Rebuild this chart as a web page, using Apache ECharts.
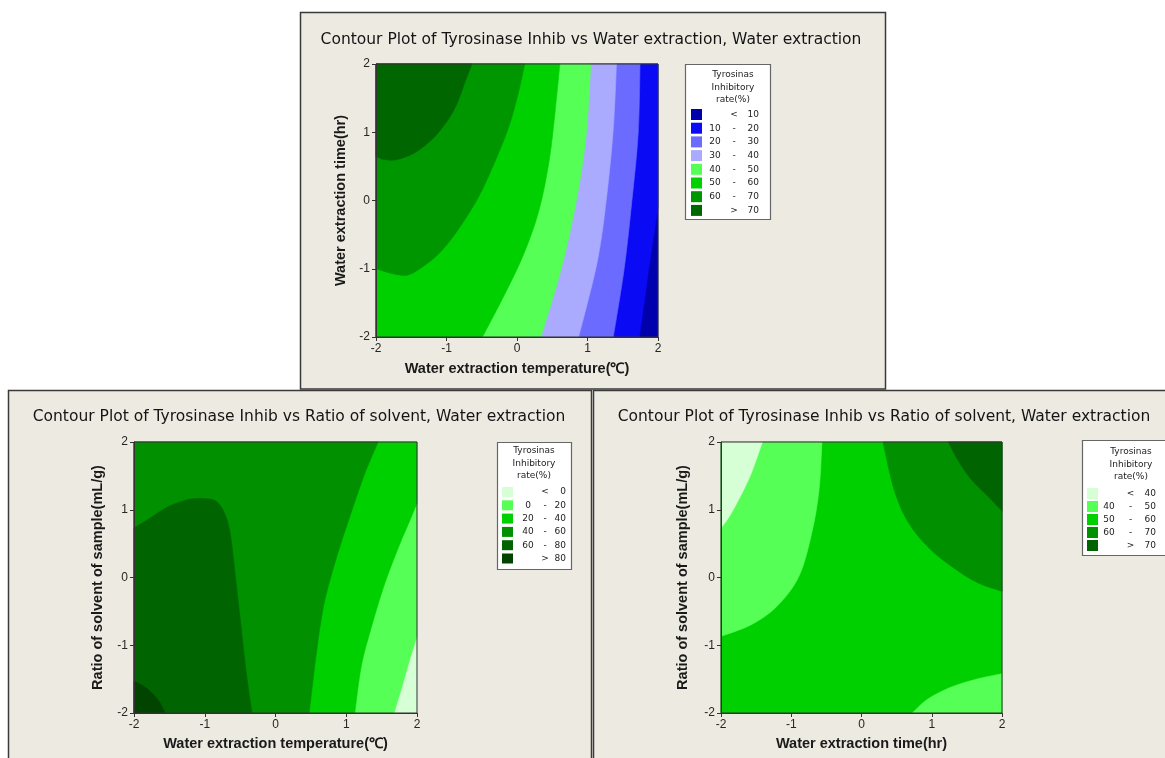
<!DOCTYPE html>
<html><head><meta charset="utf-8">
<script src="https://cdn.jsdelivr.net/npm/echarts@6/dist/echarts.min.js"></script>
<style>html,body{margin:0;padding:0;background:#fff}#c{width:1165px;height:758px}</style>
</head><body><div id="c"></div>
<script>
// ================= DATA =================
const axisTicks = [-2, -1, 0, 1, 2];
const titles = [
  'Contour Plot of Tyrosinase Inhib vs Water extraction, Water extraction',
  'Contour Plot of Tyrosinase Inhib vs Ratio of solvent, Water extraction',
  'Contour Plot of Tyrosinase Inhib vs Ratio of solvent, Water extraction'
];
const xNames = ['Water extraction temperature(\u2103)', 'Water extraction temperature(\u2103)', 'Water extraction time(hr)'];
const yNames = ['Water extraction time(hr)', 'Ratio of solvent of sample(mL/g)', 'Ratio of solvent of sample(mL/g)'];
const legendHeader = ['Tyrosinas', 'Inhibitory', 'rate(%)'];

// legend classes (low, separator, high)
const p1Lo  = ['', '10', '20', '30', '40', '50', '60', ''];
const p1Sep = ['<', '-', '-', '-', '-', '-', '-', '>'];
const p1Hi  = ['10', '20', '30', '40', '50', '60', '70', '70'];
const p2Lo  = ['', '0', '20', '40', '60', ''];
const p2Sep = ['<', '-', '-', '-', '-', '>'];
const p2Hi  = ['0', '20', '40', '60', '80', '80'];
const p3Lo  = ['', '40', '50', '60', ''];
const p3Sep = ['<', '-', '-', '-', '>'];
const p3Hi  = ['40', '50', '60', '70', '70'];

// contour lines, [x, y] in coded units
// Panel 1: x = temperature, y = time
const p1Line10 = [[1.735,-2],[1.81,-1.45],[1.887,-0.87],[1.95,-0.45],[2,-0.1]];
const p1Line20 = [[1.745,2],[1.72,1],[1.63,0],[1.52,-1],[1.366,-2]];
const p1Line30 = [[1.411,2],[1.368,1.084],[1.277,0.105],[1.143,-0.874],[0.875,-2]];
const p1Line40 = [[1.047,2],[0.993,1.084],[0.902,0.35],[0.768,-0.384],[0.597,-1.118],[0.34,-2]];
const p1Line50 = [[0.608,2],[0.543,1.329],[0.458,0.595],[0.313,-0.139],[0.099,-0.776],[-0.169,-1.363],[-0.49,-2]];
const p1Line60 = [[0.11,2],[0.019,1.574],[-0.115,1.084],[-0.303,0.595],[-0.543,0.057],[-0.838,-0.433],[-1.106,-0.776],[-1.373,-0.996],[-1.561,-1.094],[-1.775,-1.07],[-2,-0.996]];
const p1Line70 = [[-0.64,2],[-0.75,1.7],[-0.86,1.4],[-1.0,1.15],[-1.2,0.9],[-1.45,0.7],[-1.7,0.6],[-1.88,0.6],[-2,0.64]];
// Panel 2: x = temperature, y = ratio
const p2Line0  = [[2,-0.87],[1.9,-1.2],[1.79,-1.6],[1.675,-2]];
const p2Line20 = [[2,1.1],[1.904,0.854],[1.744,0.46],[1.531,-0.13],[1.345,-0.77],[1.212,-1.311],[1.121,-2]];
const p2Line40 = [[1.451,2],[1.265,1.542],[1.052,0.903],[0.839,0.214],[0.679,-0.425],[0.572,-1.163],[0.477,-2]];
const p2Line60 = [[-2,0.731],[-1.771,0.878],[-1.505,1.05],[-1.238,1.149],[-0.999,1.164],[-0.839,1.124],[-0.722,0.952],[-0.642,0.657],[-0.573,0.067],[-0.493,-0.671],[-0.413,-1.409],[-0.333,-2]];
const p2Line80 = [[-2,-1.533],[-1.824,-1.631],[-1.664,-1.803],[-1.558,-2]];
// Panel 3: x = time, y = ratio
const p3Line40  = [[-1.411,2],[-1.568,1.542],[-1.724,1.198],[-1.88,0.903],[-2,0.731]];
const p3Line50a = [[-0.563,2],[-0.604,1.297],[-0.708,0.657],[-0.891,0.017],[-1.203,-0.425],[-1.568,-0.696],[-2,-0.868]];
const p3Line50b = [[0.724,-2],[0.932,-1.803],[1.245,-1.631],[1.609,-1.508],[2,-1.42]];
const p3Line60  = [[0.307,2],[0.464,1.297],[0.672,0.804],[0.984,0.411],[1.349,0.116],[1.661,-0.081],[2,-0.204]];
const p3Line70  = [[1.236,2],[1.38,1.72],[1.56,1.45],[1.8,1.2],[2,0.98]];

// ================= STYLE =================
const p1Colors = ['#0000AC', '#0A0AF5', '#6B6BFF', '#AAAAFF', '#55FF55', '#00D000', '#009600', '#006600'];
const p2Colors = ['#D6FFD6', '#55FF55', '#00D000', '#009000', '#006400', '#004400'];
const p3Colors = ['#D6FFD6', '#55FF55', '#00D000', '#009000', '#006400'];
const BG = '#EDEAE1';
const FONT = 'Liberation Sans';
const SMALL = 'DejaVu Sans';

const lo = axisTicks[0], hi = axisTicks[axisTicks.length - 1];
const TL = [lo, hi], TR = [hi, hi], BL = [lo, lo], BR = [hi, lo];
const FULL = [{ line: null, corners: [TL, TR, BR, BL] }];

// regions for each class (painted in z order)
const p1Regions = [
  FULL,
  [{ line: p1Line10, corners: [TR, TL, BL] }],
  [{ line: p1Line20, corners: [BL, TL] }],
  [{ line: p1Line30, corners: [BL, TL] }],
  [{ line: p1Line40, corners: [BL, TL] }],
  [{ line: p1Line50, corners: [BL, TL] }],
  [{ line: p1Line60, corners: [TL] }],
  [{ line: p1Line70, corners: [TL] }]
];
const p1Z = [2, 3, 4, 5, 6, 7, 8, 9];
const p2Regions = [
  FULL,
  [{ line: p2Line0, corners: [BL, TL, TR] }],
  [{ line: p2Line20, corners: [BL, TL, TR] }],
  [{ line: p2Line40, corners: [BL, TL] }],
  [{ line: p2Line60, corners: [BL] }],
  [{ line: p2Line80, corners: [BL] }]
];
const p2Z = [2, 3, 4, 5, 6, 7];
const p3Regions = [
  [{ line: p3Line40, corners: [TL] }],
  [{ line: p3Line50a, corners: [TL] }, { line: p3Line50b, corners: [BR] }],
  FULL,
  [{ line: p3Line60, corners: [TR] }],
  [{ line: p3Line70, corners: [TR] }]
];
const p3Z = [5, 4, 2, 4, 5];

function pathFor(api, region) {
  const pt = p => api.coord(p);
  let d = '';
  const corners = region.corners.map(pt);
  if (region.line) {
    const L = region.line.map(pt);
    d += 'M' + L[0][0] + ' ' + L[0][1];
    for (let i = 0; i < L.length - 1; i++) {
      const p0 = L[i - 1] || L[i], p1 = L[i], p2 = L[i + 1], p3 = L[i + 2] || L[i + 1];
      const c1 = [p1[0] + (p2[0] - p0[0]) / 6, p1[1] + (p2[1] - p0[1]) / 6];
      const c2 = [p2[0] - (p3[0] - p1[0]) / 6, p2[1] - (p3[1] - p1[1]) / 6];
      d += 'C' + [c1[0], c1[1], c2[0], c2[1], p2[0], p2[1]].join(' ');
    }
    corners.forEach(c => { d += 'L' + c[0] + ' ' + c[1]; });
  } else {
    corners.forEach((c, i) => { d += (i ? 'L' : 'M') + c[0] + ' ' + c[1]; });
  }
  return d + 'Z';
}

const series = [];
const legendNames = [[], [], []];
function addPanel(pi, los, seps, his, colors, regions, zs) {
  los.forEach((l, i) => {
    const name = 'p' + pi + '|' + l + '|' + seps[i] + '|' + his[i];
    legendNames[pi].push(name);
    const regs = regions[i], col = colors[i];
    series.push({
      type: 'custom', name, xAxisIndex: pi, yAxisIndex: pi, z: zs[i], silent: true,
      itemStyle: { color: col },
      data: [[0, 0]],
      renderItem: (params, api) => ({
        type: 'group',
        children: regs.map(r => ({ type: 'path', shape: { pathData: pathFor(api, r) },
          style: { fill: col, stroke: col, lineWidth: 0.6 } }))
      })
    });
  });
  // plot frame
  series.push({
    type: 'custom', name: 'frame' + pi, xAxisIndex: pi, yAxisIndex: pi, z: 20, silent: true,
    data: [[0, 0]],
    renderItem: (params, api) => {
      const a = api.coord(TL), b = api.coord(BR);
      return { type: 'rect', shape: { x: a[0], y: a[1], width: b[0] - a[0], height: b[1] - a[1] },
        style: { fill: null, stroke: '#333', lineWidth: 1 } };
    }
  });
}
addPanel(0, p1Lo, p1Sep, p1Hi, p1Colors, p1Regions, p1Z);
addPanel(1, p2Lo, p2Sep, p2Hi, p2Colors, p2Regions, p2Z);
addPanel(2, p3Lo, p3Sep, p3Hi, p3Colors, p3Regions, p3Z);

const grids = [
  { left: 376, top: 64, width: 282, height: 273 },
  { left: 134, top: 442, width: 283, height: 271 },
  { left: 721, top: 442, width: 281, height: 271 }
];
const xGaps = [24, 23, 23], yGaps = [28, 29, 31];

function axisBase(gi) {
  return {
    gridIndex: gi, type: 'value', min: lo, max: hi, interval: 1, nameLocation: 'middle',
    nameTextStyle: { fontFamily: FONT, fontWeight: 'bold', fontSize: 14.5, color: '#1a1a1a' },
    axisLine: { show: true, onZero: false, lineStyle: { color: '#333', width: 1 } },
    axisTick: { show: true, inside: false, length: 4, lineStyle: { color: '#333' } },
    axisLabel: { fontFamily: FONT, fontSize: 12, color: '#262626', margin: 6 },
    splitLine: { show: false }, z: 10
  };
}
const xAxes = grids.map((g, i) => Object.assign(axisBase(i), { name: xNames[i], nameGap: xGaps[i] }));
const yAxes = grids.map((g, i) => Object.assign(axisBase(i), { name: yNames[i], nameGap: yGaps[i] }));

function richFor(wLo, wSep, wHi) {
  const base = { fontFamily: SMALL, fontSize: 9, color: '#222' };
  return {
    lo: Object.assign({ width: wLo, align: 'center' }, base),
    sep: Object.assign({ width: wSep, align: 'center' }, base),
    hi: Object.assign({ width: wHi, align: 'right' }, base)
  };
}
function fmt(name) {
  const p = name.split('|');
  return '{lo|' + (p[1] || ' ') + '}{sep|' + p[2] + '}{hi|' + p[3] + '}';
}
const legendPos = [
  { left: 691, top: 109, gap: 2.7, h: 11, rich: richFor(16, 22, 14) },
  { left: 502, top: 487, gap: 3.3, h: 10, rich: richFor(20, 14, 14) },
  { left: 1087, top: 488, gap: 2, h: 11, rich: richFor(12, 31, 10) }
];
const legends = legendPos.map((p, i) => ({
  orient: 'vertical', left: p.left, top: p.top, padding: 0, itemGap: p.gap,
  itemWidth: 11, itemHeight: p.h, icon: 'rect', selectedMode: false,
  data: legendNames[i], formatter: fmt,
  textStyle: { fontFamily: SMALL, fontSize: 9, color: '#222', rich: p.rich }
}));

const titleCfg = [
  { x: 591, y: 32 }, { x: 299, y: 409 }, { x: 884, y: 409 }
].map((p, i) => ({
  text: titles[i], left: p.x, top: p.y, textAlign: 'center', padding: 0,
  textStyle: { fontFamily: SMALL, fontSize: 15.5, fontWeight: 'normal', color: '#141414' }
}));

const graphics = [];
// panel backgrounds
[[300.5, 12.5, 585, 376.5], [8.5, 390.5, 583, 380], [593.5, 390.5, 580, 380]].forEach(r => {
  graphics.push({ type: 'rect', z: -10, shape: { x: r[0], y: r[1], width: r[2], height: r[3] },
    style: { fill: BG, stroke: '#3a3a3a', lineWidth: 1.5 } });
});
// legend boxes and headers
[[685, 64, 85, 155, 733, 75], [497, 442, 74, 127, 534, 451], [1082, 440, 100, 115, 1131, 452]].forEach(b => {
  graphics.push({ type: 'rect', z: -5, shape: { x: b[0] + 0.5, y: b[1] + 0.5, width: b[2], height: b[3] },
    style: { fill: '#fff', stroke: '#666', lineWidth: 1.2 } });
  legendHeader.forEach((t, k) => {
    graphics.push({ type: 'text', z: 5, x: b[4], y: b[5] + k * 12.5,
      style: { text: t, fontFamily: SMALL, fontSize: 9, fill: '#222', textAlign: 'center', textVerticalAlign: 'middle' } });
  });
});

const chart = echarts.init(document.getElementById('c'));
chart.setOption({
  animation: false,
  backgroundColor: '#fff',
  title: titleCfg,
  grid: grids,
  xAxis: xAxes,
  yAxis: yAxes,
  legend: legends,
  graphic: graphics,
  series
});
</script></body></html>
